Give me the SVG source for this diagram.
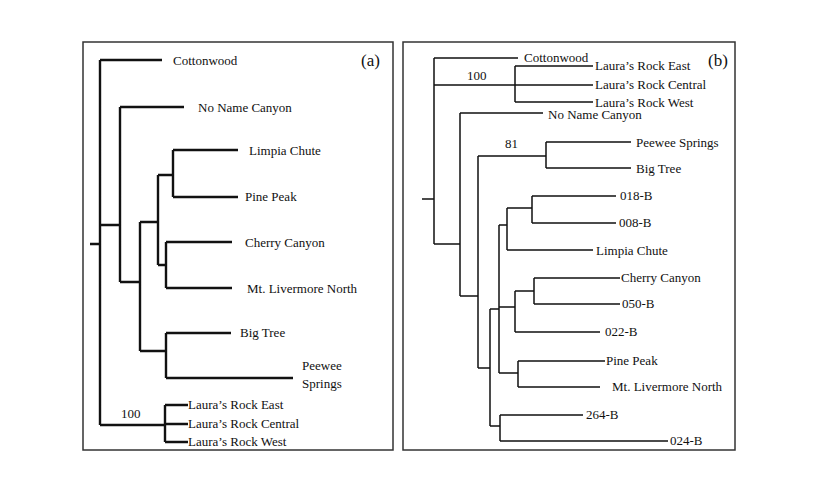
<svg xmlns="http://www.w3.org/2000/svg" width="820" height="491" viewBox="0 0 820 491">
<style>
text{font-family:"Liberation Serif","Times New Roman",serif;font-size:13px;fill:#111}
.t{font-size:17px}
.a{fill:none;stroke:#111;stroke-width:2.4}
.b{fill:none;stroke:#111;stroke-width:1.5}
.fr{fill:#fff;stroke:#333;stroke-width:1.5}
</style>
<rect width="820" height="491" fill="#fff"/>
<rect class="fr" x="83" y="42" width="310" height="408"/>
<rect class="fr" x="403" y="42" width="332" height="408"/>
<g id="connectors-a">
<path class="a" d="M90 244H100M100 60V425M100 60H162M100 425H165M165 405V442M165 405H188M165 424H188M165 442H188M100 225H120M120 107V282M120 107H184M120 282H140M140 222V351M140 222H158M158 175V265M158 175H173M173 150V197M173 150H238M173 197H238M158 265H166M166 242V288M166 242H232M166 288H232M140 351H166M166 333V378M166 333H231M166 378H293"/>
</g>
<g id="connectors-b">
<path class="b" d="M422 199H434M434 58V244M434 58H518M434 85H593M515 66V102M515 66H593M515 102H593M434 244H460M460 113V296M460 113H543M460 296H478M478 156V368M478 156H546M546 142V168M546 142H631M546 168H631M478 368H490M490 309V426M490 309H499M499 225V373M499 225H507M507 208V250M507 208H532M532 196V223M532 196H616M532 223H616M507 250H593M499 307H515M515 291V332M515 291H534M534 278V304M534 278H620M534 304H620M515 332H600M499 373H518M518 361V387M518 361H605M518 387H600M490 426H500M500 415V441M500 415H583M500 441H668"/>
</g>
<g id="labels-a">
<text class="t" x="361" y="66">(a)</text>
<text x="173" y="65">Cottonwood</text>
<text x="198" y="112">No Name Canyon</text>
<text x="249" y="155">Limpia Chute</text>
<text x="245" y="201">Pine Peak</text>
<text x="245" y="247">Cherry Canyon</text>
<text x="247" y="293">Mt. Livermore North</text>
<text x="240" y="337">Big Tree</text>
<text x="302" y="370">Peewee</text>
<text x="302" y="388">Springs</text>
<text x="188" y="409">Laura’s Rock East</text>
<text x="188" y="428">Laura’s Rock Central</text>
<text x="188" y="446">Laura’s Rock West</text>
<text x="121" y="418">100</text>
</g>
<g id="labels-b">
<text class="t" x="708" y="66">(b)</text>
<text x="524" y="62">Cottonwood</text>
<text x="595" y="70">Laura’s Rock East</text>
<text x="595" y="89">Laura’s Rock Central</text>
<text x="595" y="107">Laura’s Rock West</text>
<text x="467" y="80">100</text>
<text x="548" y="119">No Name Canyon</text>
<text x="505" y="148">81</text>
<text x="636" y="147">Peewee Springs</text>
<text x="636" y="173">Big Tree</text>
<text x="620" y="200">018-B</text>
<text x="619" y="227">008-B</text>
<text x="596" y="255">Limpia Chute</text>
<text x="621" y="282">Cherry Canyon</text>
<text x="622" y="308">050-B</text>
<text x="605" y="336">022-B</text>
<text x="606" y="365">Pine Peak</text>
<text x="612" y="391">Mt. Livermore North</text>
<text x="586" y="419">264-B</text>
<text x="670" y="445">024-B</text>
</g>
</svg>
